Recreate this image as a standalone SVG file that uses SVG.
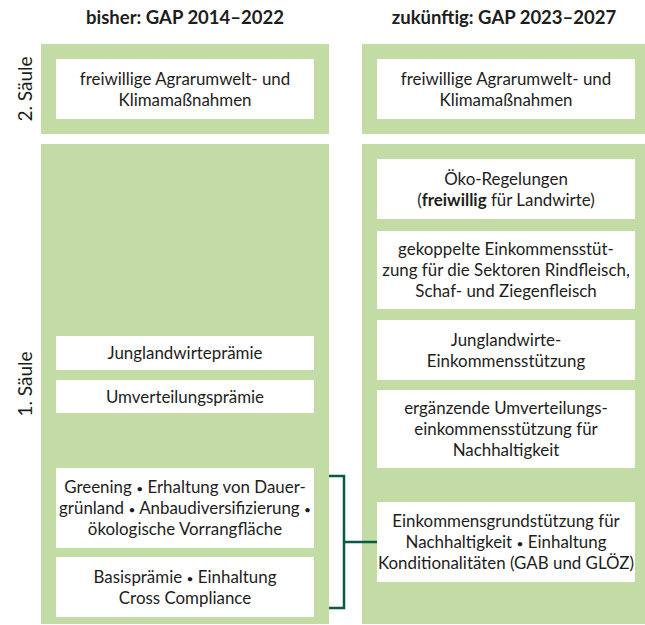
<svg xmlns="http://www.w3.org/2000/svg" width="645" height="625" viewBox="0 0 645 625">
<style>
.panel{fill:#c3dca6}
.box{fill:#ffffff}
text{font-family:Lato,"Liberation Sans",sans-serif;fill:#1d1d1b}
.t{font-size:16.9px;text-anchor:middle}
.h{font-size:18.5px;font-weight:bold;text-anchor:middle}
.side{font-size:19px;text-anchor:middle}
.b{font-size:12px}
.conn{fill:none;stroke:#0b5a45;stroke-width:2.5}
</style>
<rect width="645" height="625" fill="#ffffff"/>
<g id="headers">
<text class="h" x="185" y="24">bisher: GAP 2014–2022</text>
<text class="h" x="504" y="24">zukünftig: GAP 2023–2027</text>
</g>
<g id="side-labels">
<text class="side" transform="translate(32,89) rotate(-90)">2. Säule</text>
<text class="side" transform="translate(32,384) rotate(-90)">1. Säule</text>
</g>
<g id="panels">
<rect class="panel" x="41" y="44" width="288" height="90"/>
<rect class="panel" x="362" y="44" width="288" height="90"/>
<rect class="panel" x="41" y="144" width="288" height="480"/>
<rect class="panel" x="362" y="144" width="288" height="480"/>
</g>
<g id="connectors">
<polyline class="conn" points="329,476 344,476 344,608 329,608"/>
<line class="conn" x1="344" y1="542" x2="377" y2="542"/>
</g>
<g id="old-saeule2">
<rect class="box" x="56" y="59" width="258" height="60"/>
<text class="t" x="185" y="84.5">freiwillige Agrarumwelt- und</text>
<text class="t" x="185" y="105.5">Klimamaßnahmen</text>
</g>
<g id="new-saeule2">
<rect class="box" x="377" y="59" width="258" height="60"/>
<text class="t" x="506" y="84.5">freiwillige Agrarumwelt- und</text>
<text class="t" x="506" y="105.5">Klimamaßnahmen</text>
</g>
<g id="old-junglandwirte">
<rect class="box" x="56" y="336" width="258" height="34"/>
<text class="t" x="185" y="359">Junglandwirteprämie</text>
</g>
<g id="old-umverteilung">
<rect class="box" x="56" y="380" width="258" height="33"/>
<text class="t" x="185" y="402.5">Umverteilungsprämie</text>
</g>
<g id="old-greening">
<rect class="box" x="56" y="468" width="258" height="80"/>
<text class="t" x="185" y="493">Greening <tspan class="b">•</tspan> Erhaltung von Dauer-</text>
<text class="t" x="185" y="514">grünland <tspan class="b">•</tspan> Anbaudiversifizierung <tspan class="b">•</tspan></text>
<text class="t" x="185" y="535">ökologische Vorrangfläche</text>
</g>
<g id="old-basis">
<rect class="box" x="56" y="557" width="258" height="60"/>
<text class="t" x="185" y="582.5">Basisprämie <tspan class="b">•</tspan> Einhaltung</text>
<text class="t" x="185" y="603.5">Cross Compliance</text>
</g>
<g id="new-oeko">
<rect class="box" x="377" y="159" width="258" height="60"/>
<text class="t" x="506" y="184.5">Öko-Regelungen</text>
<text class="t" x="506" y="205.5">(<tspan font-weight="bold">freiwillig</tspan> für Landwirte)</text>
</g>
<g id="new-gekoppelt">
<rect class="box" x="377" y="231" width="258" height="78"/>
<text class="t" x="506" y="255">gekoppelte Einkommensstüt-</text>
<text class="t" x="506" y="276">zung für die Sektoren Rindfleisch,</text>
<text class="t" x="506" y="297">Schaf- und Ziegenfleisch</text>
</g>
<g id="new-junglandwirte">
<rect class="box" x="377" y="320" width="258" height="60"/>
<text class="t" x="506" y="345.5">Junglandwirte-</text>
<text class="t" x="506" y="366.5">Einkommensstützung</text>
</g>
<g id="new-umverteilung">
<rect class="box" x="377" y="390" width="258" height="78"/>
<text class="t" x="506" y="414">ergänzende Umverteilungs-</text>
<text class="t" x="506" y="435">einkommensstützung für</text>
<text class="t" x="506" y="456">Nachhaltigkeit</text>
</g>
<g id="new-grundstuetzung">
<rect class="box" x="377" y="502" width="258" height="80"/>
<text class="t" x="506" y="527">Einkommensgrundstützung für</text>
<text class="t" x="506" y="548">Nachhaltigkeit <tspan class="b">•</tspan> Einhaltung</text>
<text class="t" x="506" y="569">Konditionalitäten (GAB und GLÖZ)</text>
</g>
</svg>
